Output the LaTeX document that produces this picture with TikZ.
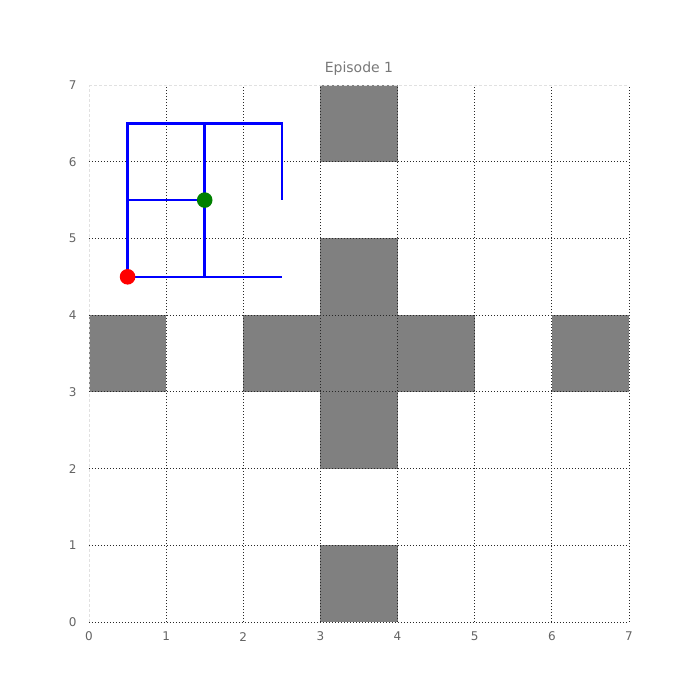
\documentclass[tikz,border=0pt]{standalone}
\usepackage{fontspec}
\setmainfont{DejaVu Sans}
\definecolor{cellgray}{RGB}{128,128,128}
\definecolor{gridin}{RGB}{40,40,40}
\definecolor{gridout}{RGB}{225,225,225}
\definecolor{ticktext}{RGB}{100,100,100}
\definecolor{titletext}{RGB}{120,120,120}
\definecolor{mplgreen}{RGB}{0,128,0}
\begin{document}
\begin{tikzpicture}[x=77.14pt,y=76.71pt,
  cell/.style={fill=cellgray},
  gridinner/.style={draw=gridin,line width=0.9pt,dash pattern=on 1pt off 2pt},
  gridouter/.style={draw=gridout,line width=0.8pt,dash pattern=on 3pt off 2pt},
  trail/.style={draw=blue,line width=2.6pt},
  tick/.style={font=\fontsize{12}{13}\selectfont,text=ticktext,inner sep=0pt}]
\useasboundingbox (-1.1537,-1.0168) rectangle (7.9206,8.1085);
% obstacles
\foreach \x/\y in {3/6,3/4,0/3,2/3,3/3,4/3,6/3,3/2,3/0}
  \fill[cell] (\x,\y) rectangle ++(1,1);
% grid
\draw[gridouter] (0,0) -- (0,7);
\draw[gridouter] (0,7) -- (7,7);
\foreach \i in {1,...,7} \draw[gridinner] (\i,0) -- (\i,7);
\foreach \j in {0,...,6} \draw[gridinner] (0,\j) -- (7,\j);
% ticks
\foreach \i in {0,...,7} {
  \node[tick] (xt\i) at (\i,-0.19) {\i};
  \node[tick] (yt\i) at (-0.21,\i) {\i};
}
\node[font=\fontsize{14}{15}\selectfont,text=titletext] (title) at (3.5,7.21) {Episode 1};
% path
\coordinate (a) at (0.5,4.5);
\coordinate (b) at (2.5,4.5);
\coordinate (c) at (0.5,6.5);
\coordinate (d) at (2.5,6.5);
\coordinate (e) at (2.5,5.5);
\coordinate (f) at (1.5,4.5);
\coordinate (g) at (1.5,6.5);
\coordinate (h) at (0.5,5.5);
\coordinate (k) at (1.5,5.5);
\draw[trail] (b) -- (a) -- (c) -- (d) -- (e);
\draw[trail] (f) -- (g);
\draw[trail] (h) -- (k);
\fill[red] (a) circle (7.8pt);
\fill[mplgreen] (k) circle (7.8pt);
\end{tikzpicture}
\end{document}
